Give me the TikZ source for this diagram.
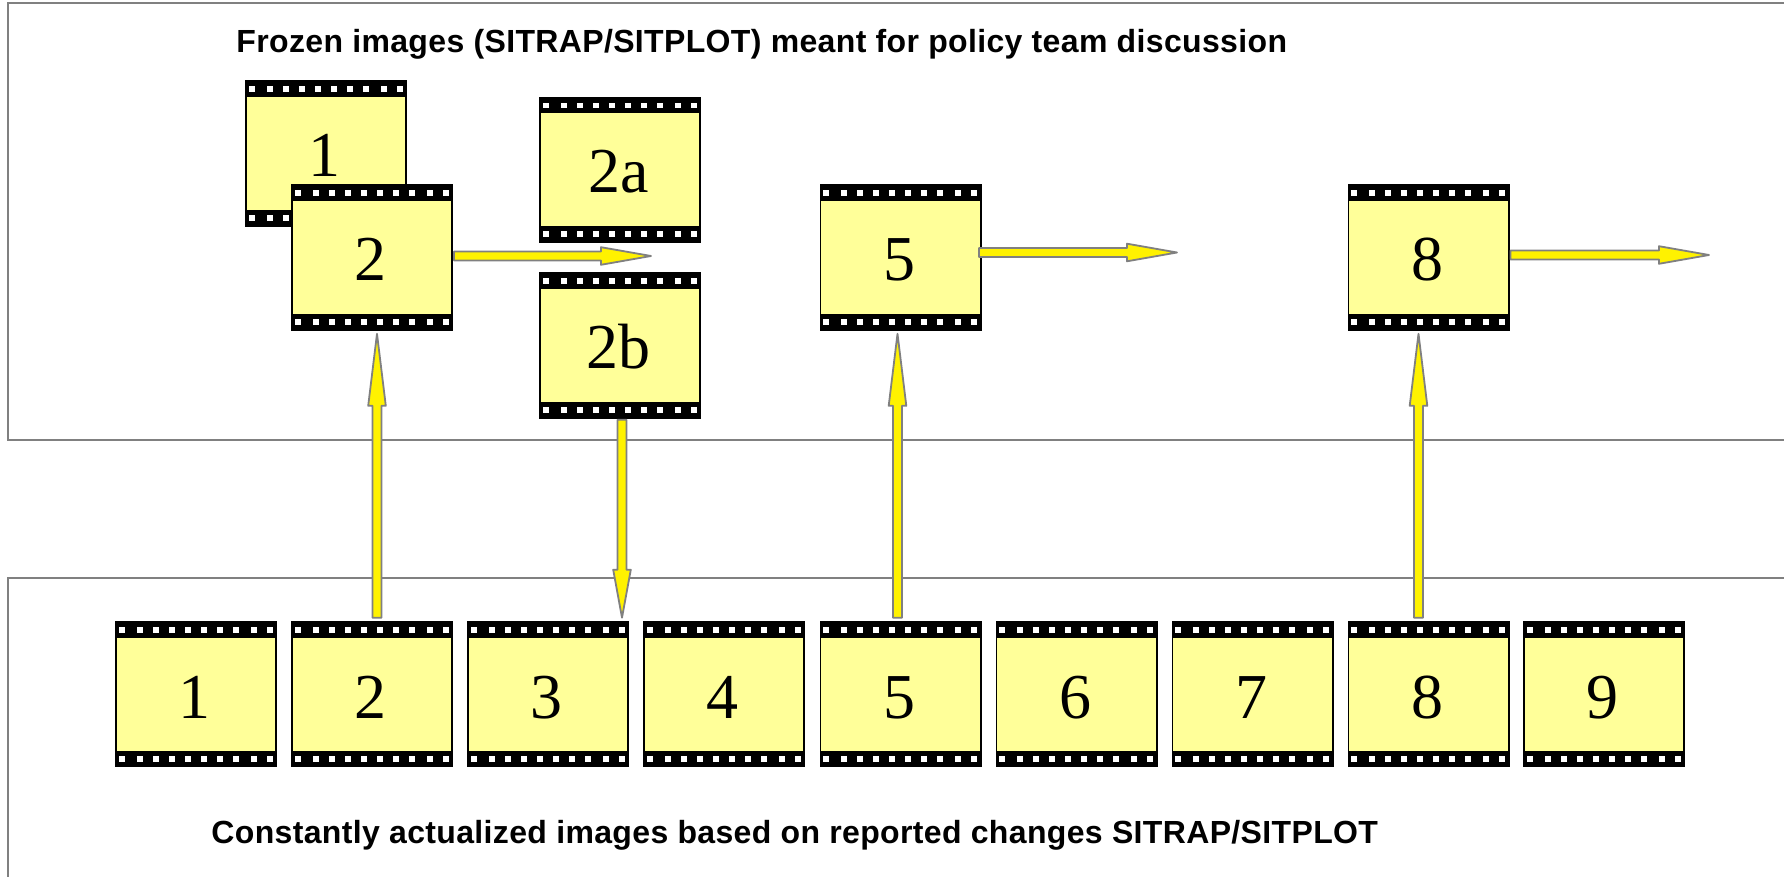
\documentclass[tikz,border=0pt]{standalone}
\usepackage{fontspec}
\setmainfont{Liberation Serif}
\newfontfamily\headfont[LetterSpace=1.1]{Liberation Sans}
\usetikzlibrary{calc}
\definecolor{filmyellow}{HTML}{FFFF99}
\definecolor{arrowgray}{HTML}{808080}
\tikzset{
  x=0.5pt,y=-0.5pt,
  panel/.style={draw=arrowgray,line width=1pt},
  heading/.style={font=\headfont\bfseries\fontsize{16pt}{18pt}\selectfont,anchor=west,inner sep=0pt},
  blockarr/.style={draw=arrowgray,fill=yellow,line width=0.9pt,line join=round},
  film/.style={draw=black,line width=0.8pt,fill=filmyellow,minimum width=80.2pt,minimum height=72.5pt,
    inner sep=0pt,text height=23pt,text depth=0pt,font=\fontsize{32pt}{32pt}\selectfont,
    execute at begin node={\kern-0.75pt},execute at end node={\kern0.75pt},
    path picture={
      \fill[black] (path picture bounding box.north west) rectangle ([yshift=-8pt]path picture bounding box.north east);
      \fill[black] (path picture bounding box.south west) rectangle ([yshift=8pt]path picture bounding box.south east);
      \foreach \o in {6,24,40,56,72,88,104,120,138,154}{
        \fill[white] ([shift={(\o-3,5.5)}]path picture bounding box.north west) rectangle ++(6,5.5);
        \fill[white] ([shift={(\o-3,-11)}]path picture bounding box.south west) rectangle ++(6,6);
      }
    }},
  lowfilm/.style={film,text height=24.5pt}
}
% #1 head length, #2 start, #3 tip
\newcommand\blockarrow[3]{%
  \coordinate (ba) at ($(#3)!#1!(#2)$);
  \draw[blockarr] ($(#2)!2.25pt!90:(#3)$) -- ($(ba)!2.25pt!90:(#3)$) -- ($(ba)!4.4pt!90:(#3)$)
    -- (#3) -- ($(ba)!4.4pt!-90:(#3)$) -- ($(ba)!2.25pt!-90:(#3)$) -- ($(#2)!2.25pt!-90:(#3)$) -- cycle;
}
\begin{document}
\begin{tikzpicture}
\useasboundingbox (0,0) rectangle (1784,877);
\fill[white] (0,0) rectangle (1784,877);
% panels
\draw[panel] (1784,3) -- (8,3) -- (8,440) -- (1784,440);
\draw[panel] (1784,578) -- (8,578) -- (8,877);
% headings
\node[heading] (toptitle) at (236,44) {Frozen images (SITRAP/SITPLOT) meant for policy team discussion};
\node[heading] (bottitle) at (211,835) {Constantly actualized images based on reported changes SITRAP/SITPLOT};
% frozen frames
\node[film] (t1) at (326,153.5) {1};
\node[film] (t2) at (372,257.5) {2};
\node[film] (t2a) at (620,170) {2a};
\node[film] (t2b) at (620,345.5) {2b};
\node[film] (t5) at (900.5,257.5) {5};
\node[film] (t8) at (1428.5,257.5) {8};
% strip frames
\node[lowfilm] (b1) at (196,694) {1};
\node[lowfilm] (b2) at (372,694) {2};
\node[lowfilm] (b3) at (548,694) {3};
\node[lowfilm] (b4) at (724,694) {4};
\node[lowfilm] (b5) at (900.5,694) {5};
\node[lowfilm] (b6) at (1076.5,694) {6};
\node[lowfilm] (b7) at (1252.5,694) {7};
\node[lowfilm] (b8) at (1428.5,694) {8};
\node[lowfilm] (b9) at (1604,694) {9};
% arrow end points
\coordinate (e2s) at ([shift={(1,-1.5)}]t2.east);
\coordinate (e2t) at (651,256);
\coordinate (e5s) at ([shift={(-2.5,-5)}]t5.east);
\coordinate (e5t) at (1177,252.5);
\coordinate (e8s) at ([shift={(1,-2.5)}]t8.east);
\coordinate (e8t) at (1709,255);
\coordinate (u2s) at ([shift={(5,-3)}]b2.north);
\coordinate (u2t) at ([shift={(5,3)}]t2.south);
\coordinate (d3s) at ([shift={(2,1)}]t2b.south);
\coordinate (d3t) at ([shift={(74,-3)}]b3.north);
\coordinate (u5s) at ([shift={(-3,-3)}]b5.north);
\coordinate (u5t) at ([shift={(-3,3)}]t5.south);
\coordinate (u8s) at ([shift={(-10,-3)}]b8.north);
\coordinate (u8t) at ([shift={(-10,3)}]t8.south);
% arrows
\blockarrow{25pt}{e2s}{e2t}
\blockarrow{25pt}{e5s}{e5t}
\blockarrow{25pt}{e8s}{e8t}
\blockarrow{36pt}{u2s}{u2t}
\blockarrow{24pt}{d3s}{d3t}
\blockarrow{36pt}{u5s}{u5t}
\blockarrow{36pt}{u8s}{u8t}
\end{tikzpicture}
\end{document}
